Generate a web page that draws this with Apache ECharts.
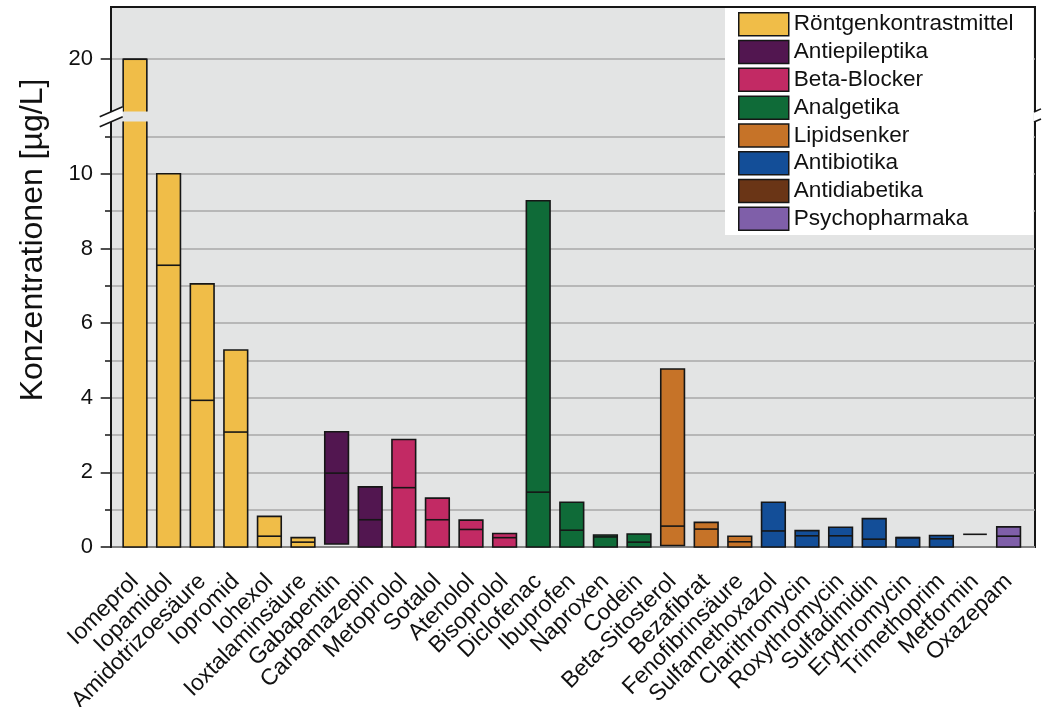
<!DOCTYPE html>
<html>
<head>
<meta charset="utf-8">
<script src="https://cdn.jsdelivr.net/npm/echarts@6/dist/echarts.min.js"></script>
<style>
  html, body { margin: 0; padding: 0; background: #fff; }
  #chart { width: 1042px; height: 707px; }
</style>
</head>
<body>
<div id="chart"></div>
<script>
// Substanzen (x-Achse)
const categories = [
  'Iomeprol', 'Iopamidol', 'Amidotrizoesäure', 'Iopromid', 'Iohexol', 'Ioxtalaminsäure',
  'Gabapentin', 'Carbamazepin',
  'Metoprolol', 'Sotalol', 'Atenolol', 'Bisoprolol',
  'Diclofenac', 'Ibuprofen', 'Naproxen', 'Codein',
  'Beta-Sitosterol', 'Bezafibrat', 'Fenofibrinsäure',
  'Sulfamethoxazol', 'Clarithromycin', 'Roxythromycin', 'Sulfadimidin', 'Erythromycin', 'Trimethoprim',
  'Metformin',
  'Oxazepam'
]
// Wirkstoffgruppe je Substanz (Index in groupNames)
const groupOf = [0, 0, 0, 0, 0, 0, 1, 1, 2, 2, 2, 2, 3, 3, 3, 3, 4, 4, 4, 5, 5, 5, 5, 5, 5, 6, 7]
const groupNames = ['Röntgenkontrastmittel', 'Antiepileptika', 'Beta-Blocker', 'Analgetika',
  'Lipidsenker', 'Antibiotika', 'Antidiabetika', 'Psychopharmaka']
const groupColors = ['#f0bd48', '#521650', '#c22a64', '#0f6b38', '#c67328', '#134e98', '#6a3516', '#7f5fa9']

// Konzentrationen [µg/L]: Minimum, mittlerer Wert (Linie), Maximum
const minVals = [0, 0, 0, 0, 0, 0, 0.08, 0, 0, 0, 0, 0, 0, 0, 0, 0, 0.04, 0, 0, 0, 0, 0, 0, 0, 0, 0.34, 0]
const midVals = [20, 7.55, 3.93, 3.08, 0.29, 0.13, 1.98, 0.73, 1.59, 0.73, 0.47, 0.25,
  1.47, 0.45, 0.27, 0.13, 0.56, 0.48, 0.14, 0.43, 0.30, 0.30, 0.21, 0.25, 0.22, 0.34, 0.29]
const maxVals = [20, 10, 7.05, 5.28, 0.82, 0.25, 3.09, 1.61, 2.88, 1.31, 0.72, 0.36,
  9.28, 1.2, 0.32, 0.35, 4.77, 0.66, 0.29, 1.2, 0.44, 0.53, 0.76, 0.25, 0.31, 0.34, 0.54]

// y-Achse
const majorTicks = [0, 2, 4, 6, 8, 10, 20]
const allTicks = [0, 1, 2, 3, 4, 5, 6, 7, 8, 9, 10, 11, 20]
const breakLo = 11.4
const breakHi = 18.6

const font = 'Liberation Sans, Arial, sans-serif'
const edge = '#161616'

function renderBox(params, api) {
  const x = api.value(0)
  const lo = api.value(1)
  const mid = api.value(2)
  const hi = api.value(3)
  const w = api.size([1, 0])[0] * 0.705
  const color = api.visual('color')
  const cx = api.coord([x, 0])[0]
  const xl = cx - w / 2
  const xr = cx + w / 2
  const yLo = api.coord([x, lo])[1]
  const yMid = api.coord([x, mid])[1]
  const yHi = api.coord([x, hi])[1]
  const children = []
  if (hi > breakHi && lo < breakLo) {
    // Balken über den Achsenbruch: zwei offene Stücke
    const yB1 = api.coord([x, breakLo])[1]
    const yB2 = api.coord([x, breakHi])[1]
    children.push({ type: 'rect', shape: { x: xl, y: yB1, width: w, height: yLo - yB1 }, style: { fill: color } })
    children.push({ type: 'rect', shape: { x: xl, y: yHi, width: w, height: yB2 - yHi }, style: { fill: color } })
    children.push({ type: 'polyline', shape: { points: [[xl, yB1], [xl, yLo], [xr, yLo], [xr, yB1]] }, style: { stroke: edge, lineWidth: 1.6, fill: null } })
    children.push({ type: 'polyline', shape: { points: [[xl, yB2], [xl, yHi], [xr, yHi], [xr, yB2]] }, style: { stroke: edge, lineWidth: 1.6, fill: null } })
  } else if (yLo - yHi > 0.5) {
    children.push({ type: 'rect', shape: { x: xl, y: yHi, width: w, height: yLo - yHi }, style: { fill: color, stroke: edge, lineWidth: 1.6 } })
  }
  if (mid < breakLo || mid > breakHi) {
    children.push({ type: 'line', shape: { x1: xl, y1: yMid, x2: xr, y2: yMid }, style: { stroke: edge, lineWidth: 1.6 } })
  }
  return { type: 'group', children: children }
}

const series = groupNames.map((name, g) => {
  const data = []
  categories.forEach((c, i) => {
    if (groupOf[i] === g) data.push([c, minVals[i], midVals[i], maxVals[i]])
  })
  return {
    name: name,
    type: 'custom',
    xAxisIndex: 1,
    yAxisIndex: 1,
    itemStyle: { color: groupColors[g] },
    encode: { x: 0, y: [1, 2, 3] },
    renderItem: renderBox,
    data: data,
    z: 3
  }
})

const valueAxisBase = {
  type: 'value',
  min: 0,
  max: 21.4,
  // Lücke in Achseneinheiten
  breaks: [{ start: breakLo, end: breakHi, gap: 0.27 }],
  breakArea: {
    show: true,
    itemStyle: { color: '#e3e4e4', borderWidth: 0, opacity: 1 },
    zigzagAmplitude: 0,
    zigzagZ: 1,
    expandOnClick: false
  }
}

const option = {
  animation: false,
  textStyle: { fontFamily: font },
  grid: [
    {
      left: 111, right: 7, top: 7, bottom: 160, outerBoundsMode: 'none',
      show: true, backgroundColor: '#e3e4e4', borderColor: edge, borderWidth: 2
    },
    { left: 118.2, right: 16.6, top: 7, bottom: 160, outerBoundsMode: 'none' }
  ],
  legend: {
    orient: 'vertical',
    left: 725,
    top: 8,
    padding: [4, 20, 4, 13],
    backgroundColor: '#fff',
    itemWidth: 50,
    itemHeight: 23,
    itemGap: 3.3,
    icon: 'rect',
    itemStyle: { borderColor: edge, borderWidth: 1.5 },
    textStyle: { fontSize: 22.6, color: '#111', fontFamily: font },
    data: groupNames,
    z: 10
  },
  xAxis: [
    { gridIndex: 0, type: 'category', data: categories, show: false },
    {
      gridIndex: 1,
      type: 'category',
      data: categories,
      axisLine: { show: false },
      axisTick: { show: false },
      axisLabel: { interval: 0, rotate: 45, fontSize: 23, color: '#111', margin: 31, fontFamily: font }
    }
  ],
  yAxis: [
    Object.assign({}, valueAxisBase, {
      gridIndex: 0,
      name: 'Konzentrationen [µg/L]',
      nameLocation: 'middle',
      nameGap: 62,
      nameTextStyle: { fontSize: 32, color: '#111', fontFamily: font, padding: [0, 0, 0, 74] },
      axisLine: { show: true, lineStyle: { color: edge, width: 2 } },
      axisTick: { show: true, length: 6, customValues: allTicks, lineStyle: { color: edge, width: 1.5 } },
      axisLabel: { customValues: majorTicks, fontSize: 22, color: '#111', margin: 18, fontFamily: font },
      splitLine: { show: true, lineStyle: { color: '#a9a9a9', width: 1.5 } }
    }),
    Object.assign({}, valueAxisBase, {
      gridIndex: 1,
      offset: 6.5,
      axisLine: { show: false },
      axisTick: { show: true, length: 11, customValues: majorTicks, lineStyle: { color: edge, width: 1.5 } },
      axisLabel: { show: false },
      splitLine: { show: false }
    })
  ],
  series: series
}

const chart = echarts.init(document.getElementById('chart'))
chart.setOption(option)

// Bruchzeichen an linker und rechter Achse
const yA = chart.convertToPixel({ yAxisIndex: 0 }, breakLo)
const yB = chart.convertToPixel({ yAxisIndex: 0 }, breakHi)
const xL = 111.7
const xR = 1035
function slashes(x, dl, dr) {
  const s = 5
  return [
    { type: 'polygon', shape: { points: [[x - dl, yA + s * dl / 11.5], [x + dr, yA - s * dr / 11.5], [x + dr, yB - s * dr / 11.5], [x - dl, yB + s * dl / 11.5]] }, style: { fill: '#fff' }, z: 20 },
    { type: 'line', shape: { x1: x - dl, y1: yA + s * dl / 11.5, x2: x + dr, y2: yA - s * dr / 11.5 }, style: { stroke: edge, lineWidth: 1.6 }, z: 21 },
    { type: 'line', shape: { x1: x - dl, y1: yB + s * dl / 11.5, x2: x + dr, y2: yB - s * dr / 11.5 }, style: { stroke: edge, lineWidth: 1.6 }, z: 21 }
  ]
}
chart.setOption({ graphic: slashes(xL, 12, 11).concat(slashes(xR, 1, 6)) })
</script>
</body>
</html>
